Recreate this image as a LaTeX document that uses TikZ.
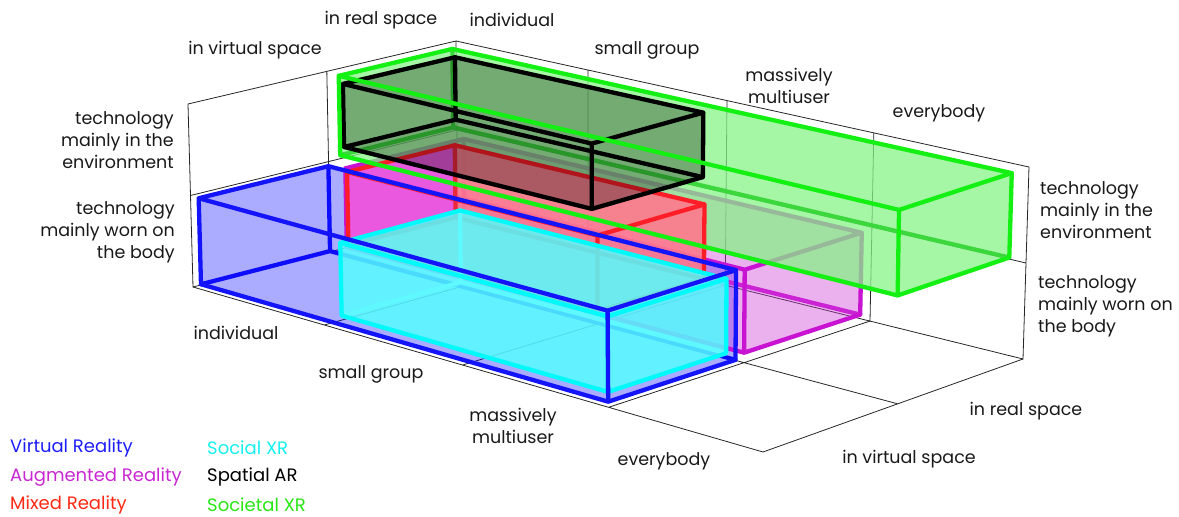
\documentclass[tikz,border=0pt]{standalone}
\usepackage{fontspec}
\setmainfont{Poppins}
\definecolor{cVR}{RGB}{20,20,250}
\definecolor{cSoc}{RGB}{0,250,250}
\definecolor{cAR}{RGB}{200,20,210}
\definecolor{cMR}{RGB}{255,30,40}
\definecolor{hMR}{RGB}{235,40,60}
\definecolor{cSpa}{RGB}{0,0,0}
\definecolor{cSocX}{RGB}{20,240,20}
\definecolor{hSocX}{RGB}{60,215,60}
\definecolor{fVR}{RGB}{0,0,255}
\definecolor{fSoc}{RGB}{85,255,255}
\definecolor{fAR}{RGB}{205,60,215}
\definecolor{fMR}{RGB}{255,120,140}
\definecolor{fMRl}{RGB}{232,85,232}
\definecolor{fGr}{RGB}{0,230,0}
\definecolor{hSoc}{RGB}{150,215,250}
\definecolor{tVR}{RGB}{30,30,250}
\definecolor{tAR}{RGB}{200,40,210}
\definecolor{tMR}{RGB}{255,40,20}
\definecolor{tSoc}{RGB}{20,240,240}
\definecolor{tSocX}{RGB}{40,230,20}
% projected point: u in [0,4], s in [0,2], h in [0,2]
\newcommand\mkpt[4]{%
  \pgfmathsetmacro\tA{(#2)/4}%
  \pgfmathsetmacro\fA{\tA/(\tA+1.1146*(1-\tA))}%
  \pgfmathsetmacro\tB{(#3)/2}%
  \pgfmathsetmacro\fB{\tB/(\tB+0.9305*(1-\tB))}%
  \pgfmathsetmacro\fC{(#4)/2}%
  \pgfmathsetmacro\wA{(1-\fA)*(1-\fB)}%
  \pgfmathsetmacro\wB{\fA*(1-\fB)}%
  \pgfmathsetmacro\wC{(1-\fA)*\fB}%
  \pgfmathsetmacro\wD{\fA*\fB}%
  \pgfmathsetmacro\xb{\wA*193+\wB*763+\wC*458+\wD*1023}%
  \pgfmathsetmacro\xt{\wA*188+\wB*763+\wC*456+\wD*1029}%
  \pgfmathsetmacro\yb{\wA*287+\wB*452+\wC*219+\wD*359}%
  \pgfmathsetmacro\yt{\wA*104+\wB*254+\wC*41+\wD*167}%
  \pgfmathsetmacro\xv{\xb+(\xt-\xb)*\fC}%
  \pgfmathsetmacro\yv{-(\yb+(\yt-\yb)*\fC)}%
  \coordinate (#1) at (\xv,\yv);%
}
\newcommand\mkcub[7]{%
  \mkpt{#1-000}{#2}{#4}{#6}\mkpt{#1-100}{#3}{#4}{#6}%
  \mkpt{#1-010}{#2}{#5}{#6}\mkpt{#1-110}{#3}{#5}{#6}%
  \mkpt{#1-001}{#2}{#4}{#7}\mkpt{#1-101}{#3}{#4}{#7}%
  \mkpt{#1-011}{#2}{#5}{#7}\mkpt{#1-111}{#3}{#5}{#7}%
}
\newcommand\cubhidden[2]{\draw[edge,#2] (#1-010)--(#1-110) (#1-010)--(#1-000) (#1-010)--(#1-011);}
\newcommand\cubfill[2]{\fill[#2] (#1-000)--(#1-100)--(#1-110)--(#1-111)--(#1-011)--(#1-001)--cycle;}
\newcommand\cubedges[2]{\draw[edge,#2] (#1-000)--(#1-100)--(#1-110)--(#1-111)--(#1-011)--(#1-001)--cycle (#1-001)--(#1-101)--(#1-100) (#1-101)--(#1-111);}
\newcommand\cubleft[2]{\fill[#2] (#1-000)--(#1-010)--(#1-011)--(#1-001)--cycle;}
\begin{document}
\begin{tikzpicture}[x=1pt,y=1pt,
  frame/.style={line width=0.8pt, black!85},
  edge/.style={line width=4.3pt, line join=round, line cap=round},
  lbl/.style={font=\fontsize{17.5}{22}\selectfont, inner sep=0pt, text=black!90},
  leg/.style={font=\fontsize{18}{22}\selectfont, inner sep=0pt, anchor=west}]
\useasboundingbox (0,0) rectangle (1179,-517);
% grid points
\foreach \u in {0,...,4}{\foreach \s in {0,1,2}{\foreach \h in {0,1,2}{\mkpt{g\u\s\h}{\u}{\s}{\h}}}}
% frame: left wall, back wall, floor
\draw[frame] (g000)--(g002)--(g022)--(g020)--cycle (g010)--(g012) (g001)--(g011)--(g021);
\draw[frame] (g020)--(g420)--(g422)--(g022) (g120)--(g122) (g220)--(g222) (g320)--(g322) (g021)--(g421);
\draw[frame] (g000)--(g400)--(g420) (g010)--(g410) (g100)--(g120) (g200)--(g220) (g300)--(g320);
% boxes (u0,u1,s0,s1,h0,h1)
\mkcub{ar}{0.10}{2.975}{1.03}{1.95}{0.08}{0.95}
\mkcub{mr}{0.05}{1.91}{1.09}{1.93}{0.06}{0.87}
\mkcub{sx}{0.03}{3.94}{1.06}{1.94}{1.06}{1.94}
\mkcub{sa}{0.03}{1.87}{1.09}{1.96}{1.14}{1.84}
\mkcub{vr}{0.03}{2.97}{0.03}{0.97}{0.03}{0.97}
\mkcub{so}{1.064}{2.936}{0.064}{0.936}{0.10}{0.88}
% VR: hidden edges and fill first
\cubhidden{vr}{cVR}
\cubfill{vr}{fVR,fill opacity=0.33}
% AR
\cubhidden{ar}{cAR}
\cubfill{ar}{fAR,fill opacity=0.4}
\cubedges{ar}{cAR}
% Societal XR fill
\cubfill{sx}{white,fill opacity=0.6}
\cubfill{sx}{fGr,fill opacity=0.35}
\cubhidden{sx}{hSocX}
% MR
\cubfill{mr}{fMR,fill opacity=0.9}
\cubleft{mr}{fMRl,fill opacity=0.9}
\cubhidden{mr}{hMR}
\cubedges{mr}{cMR}
% Spatial AR
\cubfill{sa}{black,fill opacity=0.3}
\cubhidden{sa}{cSpa}
\cubedges{sa}{cSpa}
\cubedges{sx}{cSocX}
% Social XR inside VR
\cubhidden{so}{hSoc}
\cubfill{so}{fSoc,fill opacity=0.85}
\cubedges{so}{cSoc}
\cubedges{vr}{cVR}
% axis labels, top/back
\node[lbl] (tvirt) at (255,-50) {in virtual space};
\node[lbl] (treal) at (381,-20) {in real space};
\node[lbl] (tind) at (512,-20) {individual};
\node[lbl] (tsmall) at (647,-50) {small group};
\node[lbl, align=center] (tmass) at (789,-86) {massively\\multiuser};
\node[lbl] (tevery) at (939,-113) {everybody};
\node[lbl, align=right, anchor=east] (lenv) at (174,-140) {technology\\mainly in the\\environment};
\node[lbl, align=right, anchor=east] (lbody) at (175,-232) {technology\\mainly worn on\\the body};
\node[lbl, align=left, anchor=west] (renv) at (1040,-210) {technology\\mainly in the\\environment};
\node[lbl, align=left, anchor=west] (rbody) at (1038,-306) {technology\\mainly worn on\\the body};
% axis labels, front
\node[lbl] (bind) at (236,-333) {individual};
\node[lbl] (bsmall) at (371,-374) {small group};
\node[lbl, align=center] (bmass) at (513,-426) {massively\\multiuser};
\node[lbl] (bevery) at (664,-461) {everybody};
\node[lbl] (breal) at (1026,-411) {in real space};
\node[lbl] (bvirt) at (909,-459) {in virtual space};
% legend
\node[leg, text=tVR] (lgvr) at (10,-448) {Virtual Reality};
\node[leg, text=tAR] (lgar) at (10,-477) {Augmented Reality};
\node[leg, text=tMR] (lgmr) at (10,-505) {Mixed Reality};
\node[leg, text=tSoc] (lgso) at (207,-448) {Social XR};
\node[leg, text=black] (lgsa) at (207,-477) {Spatial AR};
\node[leg, text=tSocX] (lgsx) at (207,-505) {Societal XR};
\end{tikzpicture}
\end{document}
